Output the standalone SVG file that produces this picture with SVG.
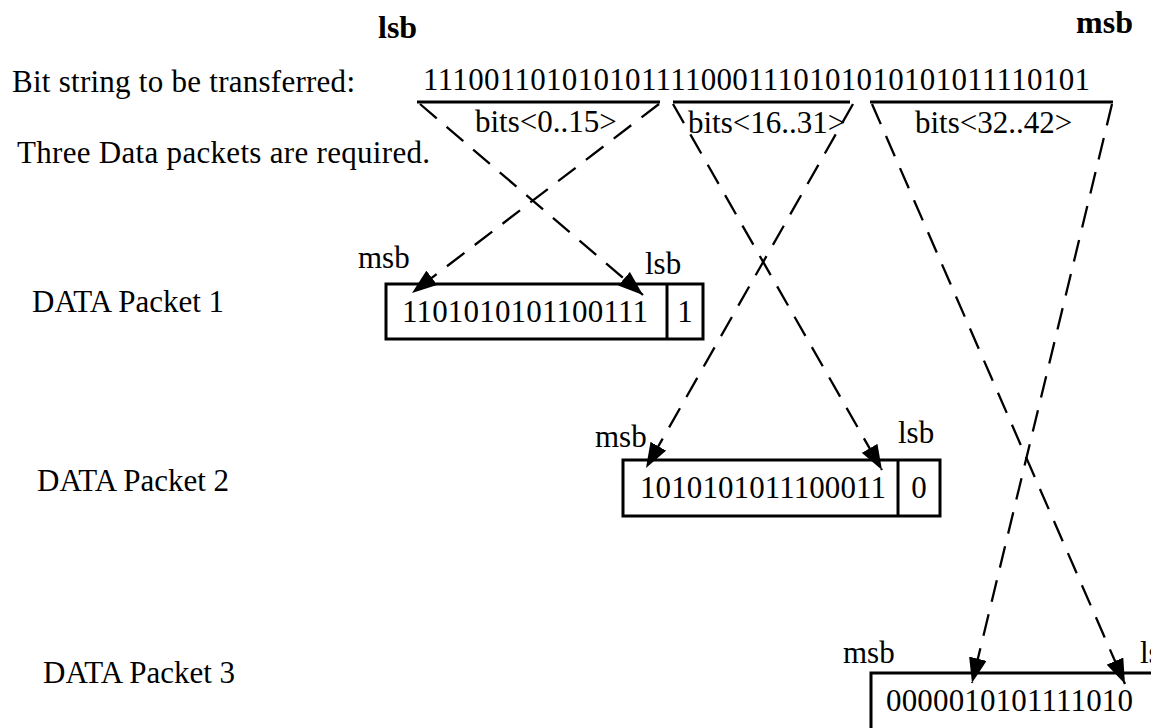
<svg xmlns="http://www.w3.org/2000/svg" width="1151" height="728" viewBox="0 0 1151 728">
<style>
text { font-family: "Liberation Serif", "Times New Roman", serif; fill: #000; }
.t { font-size: 31px; }
.b { font-size: 32px; font-weight: bold; }
.ul { stroke: #000; stroke-width: 3; }
.box { fill: none; stroke: #000; stroke-width: 3; }
.dash { stroke: #000; stroke-width: 2.3; stroke-dasharray: 22 13; fill: none; marker-end: url(#ah); }
</style>
<defs>
<marker id="ah" markerUnits="userSpaceOnUse" markerWidth="25" markerHeight="18" refX="25" refY="9" orient="auto">
<path d="M0,0 L25,9 L0,18 z" fill="#000"/>
</marker>
</defs>
<rect width="1151" height="728" fill="#fff"/>
<g id="header">
<text class="b" x="378" y="38">lsb</text>
<text class="b" x="1133" y="33" text-anchor="end">msb</text>
<text class="t" x="12" y="92" textLength="343">Bit string to be transferred:</text>
<text class="t" x="423" y="90" textLength="667">1110011010101011110001110101010101011110101</text>
<text class="t" x="17" y="163" textLength="413">Three Data packets are required.</text>
</g>
<g id="ranges">
<line class="ul" x1="417" y1="102" x2="660" y2="102"/>
<line class="ul" x1="673" y1="102" x2="850" y2="102"/>
<line class="ul" x1="870" y1="102" x2="1113" y2="102"/>
<text class="t" x="475" y="132">bits&lt;0..15&gt;</text>
<text class="t" x="688" y="133">bits&lt;16..31&gt;</text>
<text class="t" x="915" y="133">bits&lt;32..42&gt;</text>
</g>
<g id="packet1">
<text class="t" x="32" y="312">DATA Packet 1</text>
<rect class="box" x="386" y="284" width="317" height="55"/>
<line class="ul" x1="667" y1="284" x2="667" y2="339"/>
<text class="t" x="402" y="322" textLength="246">1101010101100111</text>
<text class="t" x="685" y="322" text-anchor="middle">1</text>
<text class="t" x="358" y="268">msb</text>
<text class="t" x="645" y="274">lsb</text>
</g>
<g id="packet2">
<text class="t" x="37" y="491">DATA Packet 2</text>
<rect class="box" x="623" y="460" width="317" height="56"/>
<line class="ul" x1="898" y1="460" x2="898" y2="516"/>
<text class="t" x="640" y="498" textLength="246">1010101011100011</text>
<text class="t" x="919" y="498" text-anchor="middle">0</text>
<text class="t" x="595" y="447">msb</text>
<text class="t" x="898" y="443">lsb</text>
</g>
<g id="packet3">
<text class="t" x="43" y="683">DATA Packet 3</text>
<rect class="box" x="871" y="673" width="317" height="62"/>
<text class="t" x="886" y="711" textLength="247">0000010101111010</text>
<text class="t" x="843" y="663">msb</text>
<text class="t" x="1140" y="663">lsb</text>
</g>
<g id="connectors">
<path class="dash" d="M420,104 L643,295"/>
<path class="dash" d="M659,104 L412,293"/>
<path class="dash" d="M673,104 L882,470"/>
<path class="dash" d="M853,104 L646,468"/>
<path class="dash" d="M872,104 L1125,684"/>
<path class="dash" d="M1112,104 L972,683"/>
</g>
</svg>
